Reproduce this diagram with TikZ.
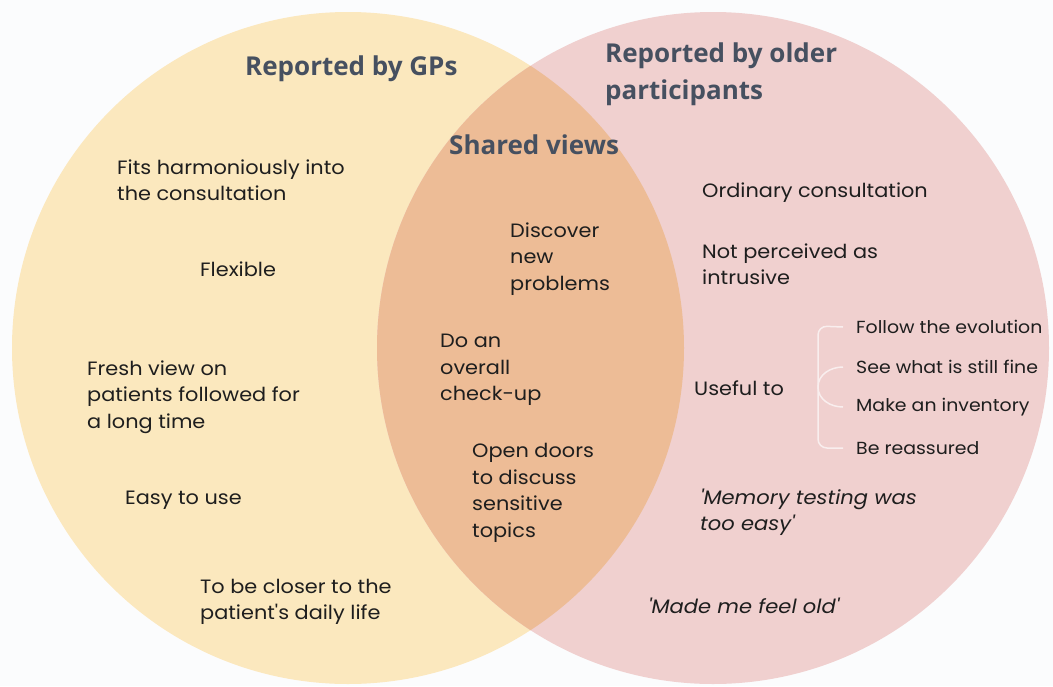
\documentclass[tikz,border=0pt]{standalone}
\usepackage{fontspec}
\usetikzlibrary{calc}
\newfontfamily\bodyf{Poppins}[FakeStretch=1.08]
\newfontfamily\headf{Open Sans}
\definecolor{bgc}{HTML}{FBFCFD}
\definecolor{gpc}{HTML}{FBE8BE}
\definecolor{opc}{HTML}{F0D0CF}
\definecolor{shc}{HTML}{EDBC96}
\definecolor{headc}{HTML}{465060}
\definecolor{txtc}{HTML}{1E1E1E}
\definecolor{brkc}{HTML}{F9EEEE}
\tikzset{
  heading/.style={inner sep=0pt, anchor=west, align=left, text=headc, font=\headf\bfseries\fontsize{26}{37}\selectfont},
  item/.style={inner sep=0pt, anchor=west, align=left, text=txtc, font=\bodyf\fontsize{19.3}{26.5}\selectfont},
  subitem/.style={inner sep=0pt, anchor=west, align=left, text=txtc, font=\bodyf\fontsize{17.5}{22}\selectfont},
  quote/.style={item, font=\bodyf\itshape\fontsize{19.5}{26.5}\selectfont},
  brk/.style={draw=brkc, line width=1.5pt}
}
\begin{document}
\begin{tikzpicture}[x=1pt, y=-1pt]
\fill[bgc] (0,0) rectangle (1053,686);
\useasboundingbox (0,0) rectangle (1053,686);
\fill[gpc] (348,348) circle[radius=336pt];
\fill[opc] (713,348) circle[radius=336pt];
\begin{scope}
  \clip (348,348) circle[radius=336pt];
  \fill[shc] (713,348) circle[radius=336pt];
\end{scope}
% headings
\node[heading] (hgp) at (245,69) {Reported by GPs};
\node[heading] (hop) at (605,74) {Reported by older\\participants};
\node[heading] (hsh) at (449,145) {Shared views};
% GP items
\node[item] (g1) at (117,180) {Fits harmoniously into\\the consultation};
\node[item] (g2) at (200,269) {Flexible};
\node[item] (g3) at (87,397) {Fresh view on\\patients followed for\\a long time};
\node[item] (g4) at (125,500) {Easy to use};
\node[item] (g5) at (200,602) {To be closer to the\\patient's daily life};
% shared items
\node[item] (s1) at (510,259) {Discover\\new\\problems};
\node[item] (s2) at (440,370) {Do an\\overall\\check-up};
\node[item] (s3) at (472,493) {Open doors\\to discuss\\sensitive\\topics};
% older participants items
\node[item] (o1) at (702,193) {Ordinary consultation};
\node[item] (o2) at (702,264) {Not perceived as\\intrusive};
\node[item] (o3) at (694,388) {Useful to};
\node[subitem] (u1) at (856,327) {Follow the evolution};
\node[subitem] (u2) at (856,367) {See what is still fine};
\node[subitem] (u3) at (856,407) {Make an inventory};
\node[subitem] (u4) at (856,448) {Be reassured};
\node[quote] (q1) at (700,512) {'Memory testing was\\too easy'};
\node[quote] (q2) at (648,606) {'Made me feel old'};
% bracket
\coordinate (bt) at ($(u1.west)+(-13,0)$);
\coordinate (bb) at ($(u4.west)+(-13,0)$);
\coordinate (b2) at ($(u2.west)+(-13,0)$);
\coordinate (b3) at ($(u3.west)+(-13,0)$);
\coordinate (bm) at (818,387);
\draw[brk, rounded corners=9pt] (bt) -- (818,326) -- (818,448) -- (bb);
\draw[brk] (b2) to[out=180, in=90] (bm) to[out=-90, in=180] (b3);
\end{tikzpicture}
\end{document}
